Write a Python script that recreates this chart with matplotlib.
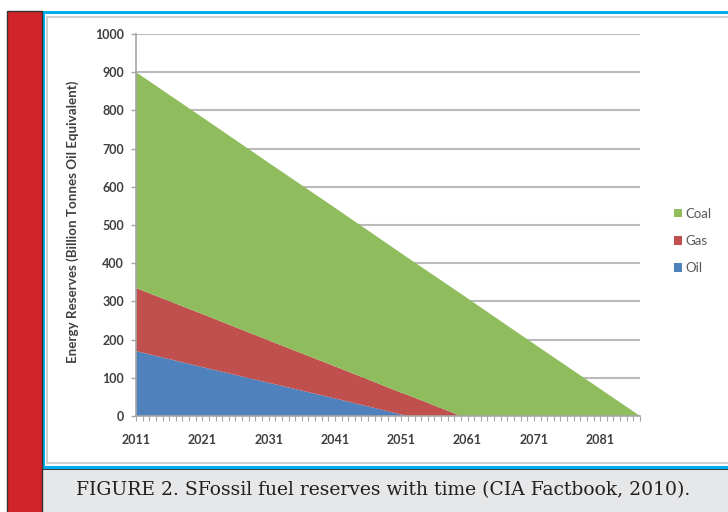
import matplotlib.pyplot as plt
from matplotlib.patches import Rectangle

# Datos (miles de millones de toneladas equivalentes de petroleo)
anios = [2011, 2021, 2031, 2041, 2051, 2052, 2060, 2061, 2071, 2081, 2087]
petroleo = [170, 128, 87, 46, 4, 0, 0, 0, 0, 0, 0]
gas = [165, 139, 111, 84, 57, 55, 0, 0, 0, 0, 0]
carbon = [565, 515, 465, 415, 365, 359, 320, 308, 189, 71, 0]

etiquetas_x = [2011, 2021, 2031, 2041, 2051, 2061, 2071, 2081]
ticks_y = [0, 100, 200, 300, 400, 500, 600, 700, 800, 900, 1000]

W, H = 728, 512
fig = plt.figure(figsize=(W / 100, H / 100), dpi=100)
fig.patch.set_facecolor('white')


def caja(x0, y0, x1, y1, **kw):
    # coordenadas en pixeles, origen arriba a la izquierda
    r = Rectangle((x0 / W, 1 - y1 / H), (x1 - x0) / W, (y1 - y0) / H,
                  transform=fig.transFigure, zorder=-1, **kw)
    fig.add_artist(r)
    return r


# marco del articulo
caja(47, 17, 740, 463, facecolor='white', edgecolor='#c8c8c8', lw=1.2)
caja(43, 469, 730, 515, facecolor='#e6e7e8', edgecolor='none')
caja(43, 468.5, 730, 470, facecolor='#3a3a3a', edgecolor='none')
caja(43, 465.5, 730, 468.5, facecolor='#00aeef', edgecolor='none')
caja(42, 11, 730, 14, facecolor='#00aeef', edgecolor='none')
caja(42.5, 11, 44.5, 468, facecolor='#00aeef', edgecolor='none')
caja(7, 11, 42, 520, facecolor='#d2232a', edgecolor='#333333', lw=1.0)

fig.text(76 / W, 1 - 490 / H,
         'FIGURE 2. SFossil fuel reserves with time (CIA Factbook, 2010).',
         family='DejaVu Serif', fontsize=13.5, color='#231f20',
         ha='left', va='center')

ax = fig.add_axes([136 / W, 1 - 416 / H, (640 - 136) / W, (416 - 34) / H])
ax.set_facecolor('none')
ax.set_zorder(5)

colores = ['#4f81bd', '#c0504d', '#8fbc5c']
capas = ax.stackplot(anios, petroleo, gas, carbon, colors=colores,
                     labels=['Oil', 'Gas', 'Coal'], lw=0, zorder=3)

ax.set_xlim(2011, 2087)
ax.set_ylim(0, 1000)
ax.set_yticks(ticks_y)
ax.set_xticks(etiquetas_x)
ax.set_xticks(range(2011, 2088), minor=True)
ax.grid(axis='y', color='#bababa', lw=1.5, zorder=1)
ax.set_axisbelow(True)

for s in ['top', 'right']:
    ax.spines[s].set_visible(False)
for s in ['left', 'bottom']:
    ax.spines[s].set_color('#a6a6a6')
    ax.spines[s].set_linewidth(1.2)
    ax.spines[s].set_zorder(4)

fuente = {'family': 'Lato', 'weight': 'bold'}
ax.tick_params(axis='y', length=3.5, width=1, color='#a6a6a6', pad=5,
               labelsize=9, labelcolor='#3f3f3f')
ax.tick_params(axis='x', which='both', length=3.5, width=0.8,
               color='#a6a6a6', pad=9.5, labelsize=9, labelcolor='#3f3f3f')
for t in ax.get_xticklabels() + ax.get_yticklabels():
    t.set_fontfamily('Lato')
    t.set_fontweight('bold')

fig.text(73 / W, 1 - 222 / H, 'Energy Reserves (Billion Tonnes Oil Equivalent)',
         rotation=90, ha='center', va='center', fontsize=9.6,
         color='#3f3f3f', **fuente)

handles = capas[::-1]
ley = ax.legend(handles, ['Coal', 'Gas', 'Oil'], loc='center left',
                bbox_to_anchor=(674 / W, 1 - 241 / H),
                bbox_transform=fig.transFigure, frameon=False,
                handlelength=0.6, handleheight=0.6, handletextpad=0.3,
                labelspacing=1.15, borderpad=0, borderaxespad=0,
                prop={'family': 'Lato', 'size': 9.5})
for t in ley.get_texts():
    t.set_color('#595959')

plt.savefig('out.png', dpi=100)
